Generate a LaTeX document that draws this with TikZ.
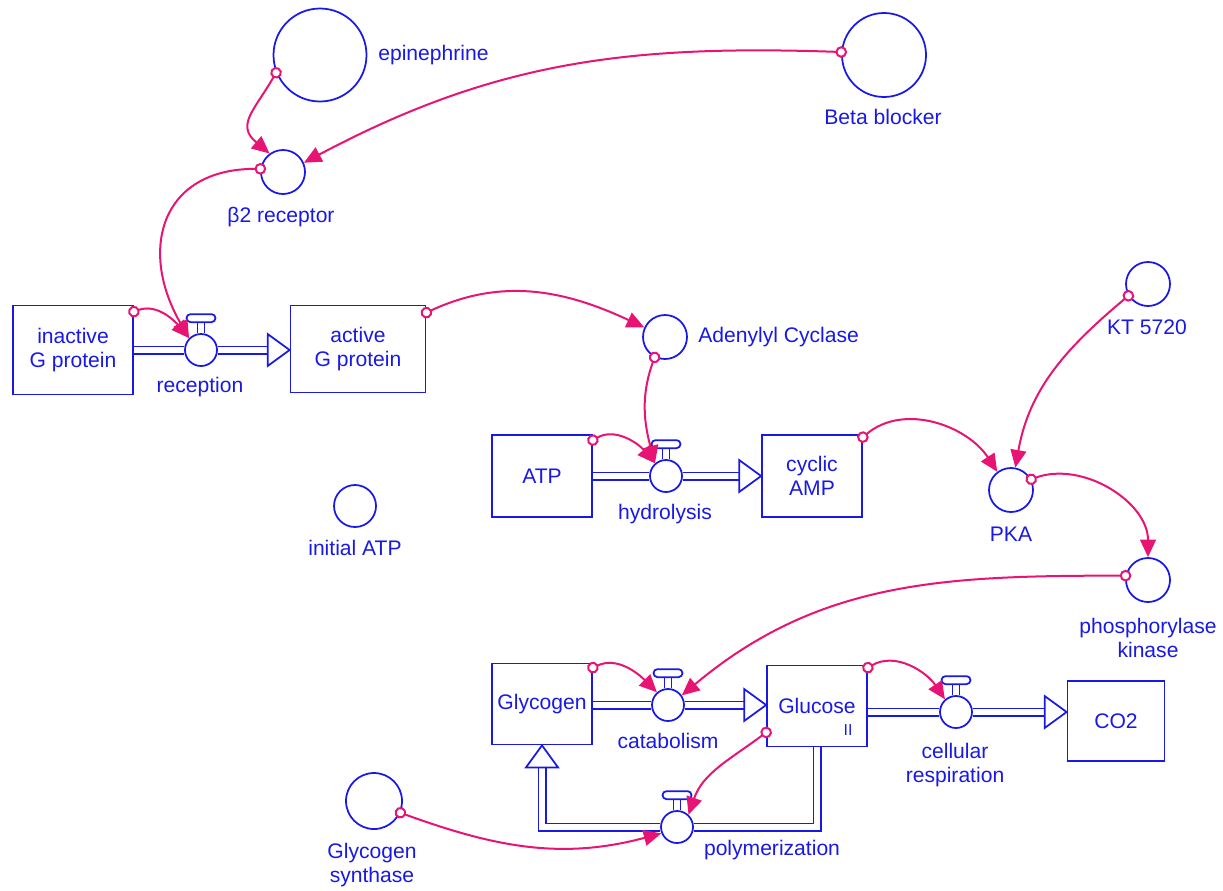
\documentclass[tikz,border=0pt]{standalone}
\usepackage{fontspec}
\setmainfont{Liberation Sans}
\usetikzlibrary{arrows.meta,positioning}

\definecolor{stblue}{RGB}{25,25,230}
\definecolor{lnkpink}{RGB}{232,20,115}

\tikzset{
    txt/.style={text=stblue, font=\fontsize{12pt}{14pt}\selectfont, align=center, inner sep=0pt},
    stock/.style={txt, draw=stblue, line width=0.35mm, minimum width=20mm, minimum height=16.4mm},
    conv/.style={circle, draw=stblue, line width=0.35mm, minimum size=8.8mm, inner sep=0pt},
    valve/.style={circle, draw=stblue, fill=white, line width=0.35mm, minimum size=6.4mm, inner sep=0pt},
    pipe/.style={draw=stblue, line width=0.35mm, double=white, double distance=1.1mm},
    pipehead/.style={draw=stblue, fill=white, line width=0.35mm, line join=miter},
    link/.style={draw=lnkpink, line width=0.4mm, shorten <=-3.3pt,
        {Circle[fill=white, length=6.6pt, width=6.6pt]}-{Triangle[length=10pt, width=9pt]}}
}

\begin{document}
\begin{tikzpicture}[x=0.2mm, y=0.2mm]

    \useasboundingbox (0,0) rectangle (1223,-890);

    %stocks
    \node[stock, minimum width=24mm, minimum height=17.8mm] (inact) at (73,-350) {inactive\\G protein};
    \node[stock, minimum width=27mm, minimum height=17.4mm] (act) at (358,-349) {active\\G protein};
    \node[stock] (atp) at (542,-476) {ATP};
    \node[stock] (camp) at (812,-476) {cyclic\\AMP};
    \node[stock, minimum height=16.2mm] (glyc) at (542,-704) {Glycogen};
    \node[stock, minimum height=16.2mm] (glu) at (817,-706) {Glucose};
    \node[stock, minimum width=19.4mm, minimum height=16mm] (co2) at (1116,-721) {CO2};
    \node[txt, font=\fontsize{9pt}{9pt}\selectfont] (glumark) at (848,-730) {II};

    %converters
    \node[conv, minimum size=18.6mm] (epi) at (320,-55) {};
    \node[conv, minimum size=16.8mm] (beta) at (884,-55) {};
    \node[conv] (b2) at (283,-172) {};
    \node[conv] (adc) at (665,-337) {};
    \node[conv] (kt) at (1148,-284) {};
    \node[conv] (pka) at (1011,-490) {};
    \node[conv] (phk) at (1148,-580) {};
    \node[conv, minimum size=8.4mm] (iatp) at (355,-506) {};
    \node[conv, minimum size=11.2mm] (syn) at (374,-801) {};

    %flows
    \node[valve] (rec) at (201,-350) {};
    \node[valve] (hyd) at (666,-476) {};
    \node[valve] (cat) at (668,-705) {};
    \node[valve] (resp) at (956,-712) {};
    \node[valve] (poly) at (677,-827) {};

    %labels
    \node[txt, anchor=west] (epilbl) at (378,-55) {epinephrine};
    \node[txt] (betalbl) at (883,-117) {Beta blocker};
    \node[txt] (b2lbl) at (281,-217) {β2 receptor};
    \node[txt, anchor=west] (adclbl) at (698,-337) {Adenylyl Cyclase};
    \node[txt] (ktlbl) at (1147,-327) {KT 5720};
    \node[txt] (pkalbl) at (1011,-534) {PKA};
    \node[txt] (phklbl) at (1148,-638) {phosphorylase\\kinase};
    \node[txt] (iatplbl) at (355,-548) {initial ATP};
    \node[txt] (synlbl) at (372,-865) {Glycogen\\synthase};
    \node[txt] (reclbl) at (200,-387) {reception};
    \node[txt] (hydlbl) at (665,-514) {hydrolysis};
    \node[txt] (catlbl) at (668,-741) {catabolism};
    \node[txt] (resplbl) at (955,-765) {cellular\\respiration};
    \node[txt] (polylbl) at (772,-850) {polymerization};

    %pipes
    \draw[pipe] (inact.east |- rec) -- (rec.west);
    \draw[pipe, shorten >=4.4mm] (rec.east) -- (rec -| act.west);
    \draw[pipehead] (rec -| act.west) -- ++(-4.4mm,3.2mm) -- ++(0,-6.4mm) -- cycle;

    \draw[pipe] (atp.east |- hyd) -- (hyd.west);
    \draw[pipe, shorten >=4.4mm] (hyd.east) -- (hyd -| camp.west);
    \draw[pipehead] (hyd -| camp.west) -- ++(-4.4mm,3.2mm) -- ++(0,-6.4mm) -- cycle;

    \draw[pipe] (glyc.east |- cat) -- (cat.west);
    \draw[pipe, shorten >=4.4mm] (cat.east) -- (cat -| glu.west);
    \draw[pipehead] (cat -| glu.west) -- ++(-4.4mm,3.2mm) -- ++(0,-6.4mm) -- cycle;

    \draw[pipe] (glu.east |- resp) -- (resp.west);
    \draw[pipe, shorten >=4.4mm] (resp.east) -- (resp -| co2.west);
    \draw[pipehead] (resp -| co2.west) -- ++(-4.4mm,3.2mm) -- ++(0,-6.4mm) -- cycle;

    \draw[pipe] (glu.south) |- (poly.east);
    \draw[pipe, shorten >=4.4mm] (poly.west) -| (glyc.south);
    \draw[pipehead] (glyc.south) -- ++(-3.2mm,-4.4mm) -- ++(6.4mm,0) -- cycle;

    %valve handles
    \foreach \v in {rec,hyd,cat,resp,poly} {
        \draw[draw=stblue, line width=0.35mm] ([xshift=-0.7mm]\v.north) -- ++(0,2.2mm)
            ([xshift=0.7mm]\v.north) -- ++(0,2.2mm);
        \draw[draw=stblue, line width=0.35mm, fill=white, rounded corners=0.8mm]
            ([xshift=-2.9mm, yshift=2.2mm]\v.north) rectangle ++(5.8mm,1.6mm);
    }

    %links
    \draw[link] (epi.202) to[out=240, in=140, looseness=1.4] (b2.126);
    \draw[link] (beta.176) to[out=178, in=28] (b2.24);
    \draw[link] (b2.172) to[out=180, in=120, looseness=1.4] (rec.135);
    \draw[link] ([yshift=-1.4mm]inact.north east) to[out=20, in=130] (rec.135);
    \draw[link] ([yshift=-1.6mm]act.north east) to[out=25, in=155] (adc.155);
    \draw[link] (adc.243) to[out=250, in=105] (hyd.131);
    \draw[link] ([yshift=-1.2mm]atp.north east) to[out=30, in=130] (hyd.131);
    \draw[link] ([yshift=-0.6mm]camp.north east) to[out=40, in=123] (pka.127);
    \draw[link] (kt.211) to[out=220, in=80] (pka.79);
    \draw[link] (pka.28) to[out=20, in=90] (phk.90);
    \draw[link] (phk.169) to[out=180, in=40] (cat.35);
    \draw[link] ([yshift=-1mm]glyc.north east) to[out=25, in=135] (cat.131);
    \draw[link] ([yshift=3mm]glu.south west) to[out=217, in=71] (poly.47);
    \draw[link] ([yshift=-0.6mm]glu.north east) to[out=30, in=124] (resp.131);
    \draw[link] (syn.336) to[out=-20, in=195] (poly.202);

\end{tikzpicture}
\end{document}
